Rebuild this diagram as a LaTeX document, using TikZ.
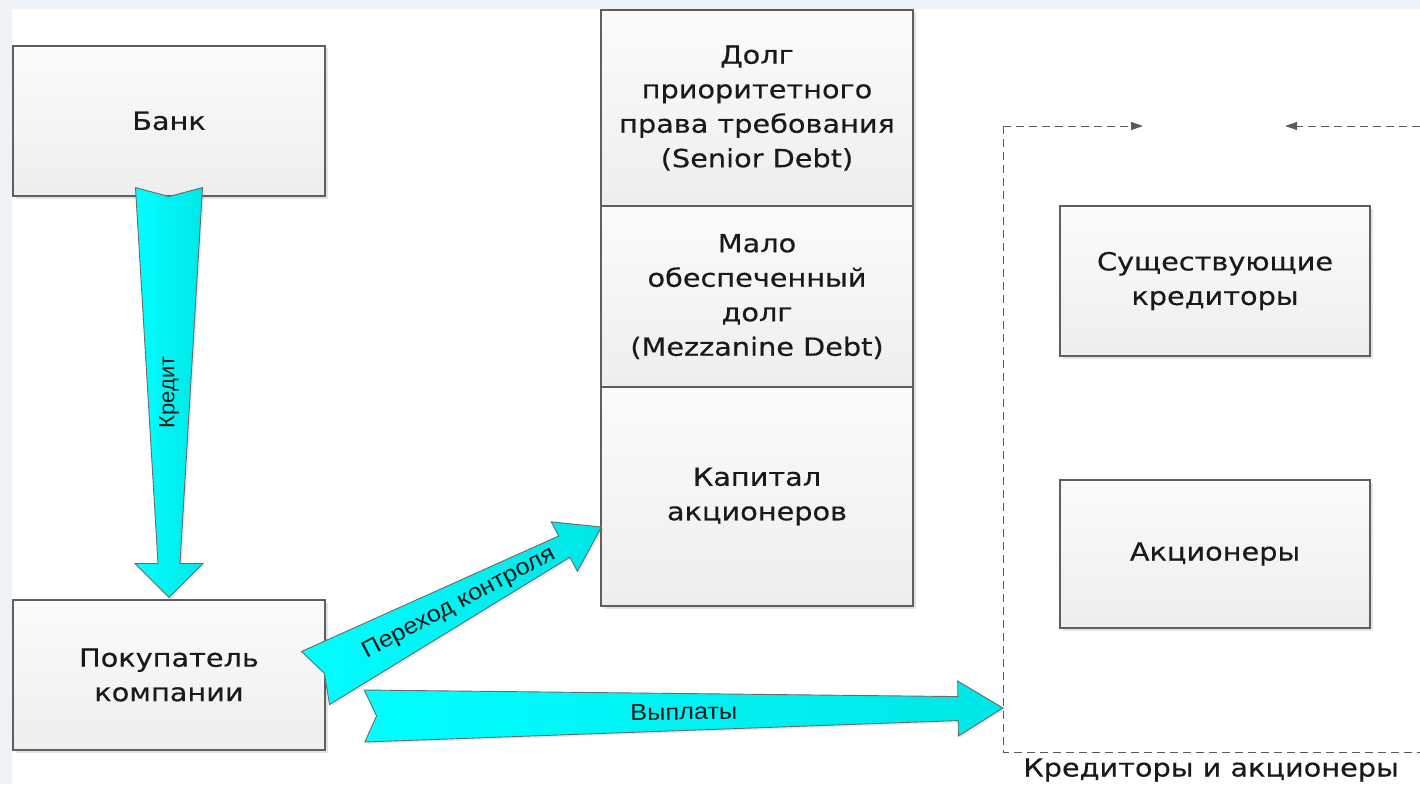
\documentclass[tikz,border=0pt]{standalone}
\usepackage{fontspec}
\setmainfont{DejaVu Sans}[FakeStretch=1.15,FakeBold=0.4]
\newfontfamily\lblfont{Liberation Sans}[FakeStretch=1.1]
\newfontfamily\lblfontn{Liberation Sans}
\usetikzlibrary{calc,shadows,arrows.meta}
\definecolor{boxline}{HTML}{5F5F5F}
\definecolor{arrfill}{HTML}{00E6E6}
\definecolor{arrfillb}{HTML}{00FFFF}
\definecolor{arrline}{HTML}{6A6A6A}
\definecolor{dashc}{HTML}{5A5A5A}
\definecolor{bgstrip}{HTML}{EDF2F6}
\definecolor{boxtop}{HTML}{FBFBFB}
\definecolor{boxbot}{HTML}{EEEEEE}
\definecolor{txt}{HTML}{1A1A1A}
\tikzset{
  box/.style={draw=boxline, line width=1.1pt, top color=boxtop, bottom color=boxbot,
    minimum width=312pt, minimum height=150pt, inner sep=0pt, align=center, text=txt,
    font=\fontsize{25}{34.5}\selectfont,
    drop shadow={shadow xshift=2.5pt, shadow yshift=-2.5pt, opacity=0.22}},
  blockarr/.style={draw=arrline, line width=0.9pt, left color=arrfillb, right color=arrfill,
    drop shadow={shadow xshift=2pt, shadow yshift=-2pt, opacity=0.18}},
  arrlabel/.style={font=\lblfont\fontsize{23}{26}\selectfont, inner sep=0pt, text=txt},
  arrlabelv/.style={font=\lblfontn\fontsize{22}{25}\selectfont, inner sep=0pt, text=txt},
  frameline/.style={draw=dashc, line width=1pt, dash pattern=on 8pt off 5pt},
  grouplabel/.style={font=\fontsize{25}{30}\selectfont, inner sep=0pt, text=txt},
}
\newcommand\blockarrow[8]{%
  \coordinate (#8-h) at ($(#2)!#6!(#1)$);
  \path[blockarr] ($(#1)!#3!90:(#2)$) -- ($(#8-h)!#4!90:(#2)$) -- ($(#8-h)!#5!90:(#2)$)
    -- (#2) -- ($(#8-h)!#5!-90:(#2)$) -- ($(#8-h)!#4!-90:(#2)$) -- ($(#1)!#3!-90:(#2)$)
    -- ($(#1)!#7!(#2)$) -- cycle;
}
\begin{document}
\begin{tikzpicture}[x=1pt,y=-1pt]
\useasboundingbox (0,0) rectangle (1420,784);
\fill[white] (0,0) rectangle (1420,784);
\fill[bgstrip] (0,0) rectangle (1420,9);
\fill[bgstrip] (0,0) rectangle (12,784);

% boxes
\node[box] (bank) at (169,121) {Банк};
\node[box] (buyer) at (169,675) {Покупатель\\компании};
\node[box, minimum height=196pt] (senior) at (757,108) {Долг\\приоритетного\\права требования\\(Senior Debt)};
\node[box, minimum height=181pt] (mezz) at (757,296.5) {Мало\\обеспеченный\\долг\\(Mezzanine Debt)};
\node[box, minimum height=219pt] (equity) at (757,496.5) {Капитал\\акционеров};
\node[box, minimum width=310pt] (creditors) at (1215,281) {Существующие\\кредиторы};
\node[box, minimum width=310pt, minimum height=148pt] (holders) at (1215,554) {Акционеры};

% dashed group frame
\coordinate (fTL) at (1003,126);
\coordinate (fBL) at (1003,752);
\coordinate (fBR) at (1420,752);
\coordinate (fTR) at (1420,126);
\coordinate (fA) at (1143,126);
\coordinate (fB) at (1285,126);
\coordinate (fM) at (1003,708);
\draw[frameline, -{Triangle[length=12pt,width=8pt]}] (fTL) -- (fA);
\draw[frameline, -{Triangle[length=12pt,width=8pt]}] (fTR) -- (fB);
\draw[frameline] (fTL) -- (fBL) -- (fBR);
\node[grouplabel] (grp) at (1211,770) {Кредиторы и акционеры};

% block arrows
\coordinate (kT) at ($(bank.south)+(0,-9)$);
\coordinate (kH) at ($(buyer.north)+(0,-2)$);
\blockarrow{kT}{kH}{33.5pt}{11pt}{34pt}{34pt}{9pt}{kr}
\path (kT) -- (kH) node[arrlabelv, midway, rotate=90] (krlbl) {Кредит};

\coordinate (pT) at ($(buyer.east)+(-10,3)$);
\coordinate (pH) at ($(equity.west)+(1,30.5)$);
\blockarrow{pT}{pH}{30pt}{12pt}{28pt}{42pt}{10pt}{pk}
\path (pT) -- (pH) node[arrlabel, midway, sloped, yshift=-1pt] (pklbl) {Переход контроля};

\coordinate (vT) at ($(buyer.east)+(39,41)$);
\blockarrow{vT}{fM}{26pt}{12pt}{27.5pt}{45pt}{12pt}{vp}
\path (vT) -- (fM) node[arrlabel, midway, sloped] (vlbl) {Выплаты};
\end{tikzpicture}
\end{document}
